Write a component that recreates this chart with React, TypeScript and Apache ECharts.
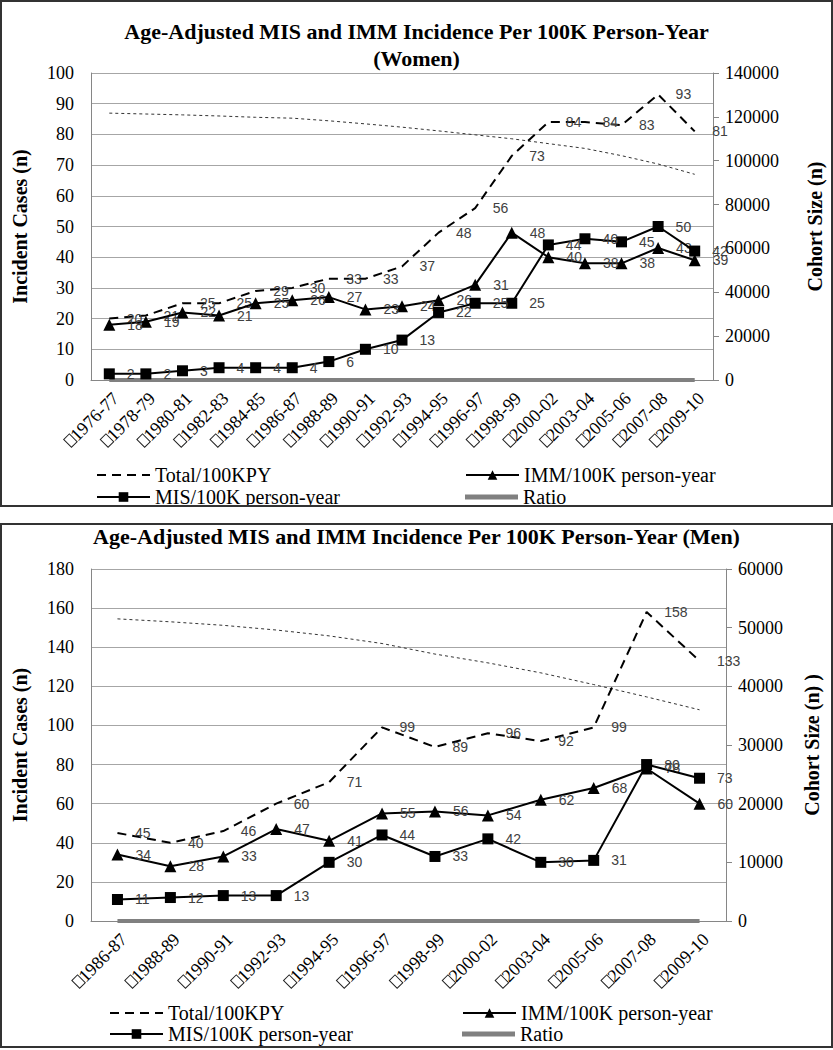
import { useEffect, useRef } from 'react'
import * as echarts from 'echarts'

const SERIF = '"Liberation Serif", "Times New Roman", serif'
const SANS = '"Liberation Sans", Arial, sans-serif'

// Women (top panel)
const womenPeriods = [
  '□1976-77', '□1978-79', '□1980-81', '□1982-83', '□1984-85', '□1986-87',
  '□1988-89', '□1990-91', '□1992-93', '□1994-95', '□1996-97', '□1998-99',
  '□2000-02', '□2003-04', '□2005-06', '□2007-08', '□2009-10',
]
const womenTotal = [20, 21, 25, 25, 29, 30, 33, 33, 37, 48, 56, 73, 84, 84, 83, 93, 81]
const womenImm = [18, 19, 22, 21, 25, 26, 27, 23, 24, 26, 31, 48, 40, 38, 38, 43, 39]
const womenMis = [2, 2, 3, 4, 4, 4, 6, 10, 13, 22, 25, 25, 44, 46, 45, 50, 42]
const womenRatio = [0.11, 0.11, 0.14, 0.19, 0.16, 0.15, 0.22, 0.43, 0.54, 0.85, 0.81, 0.52, 1.1, 1.21, 1.18, 1.16, 1.08]
const womenCohort = [
  121700, 121300, 120900, 120400, 119800, 119400, 118200, 116800, 115300,
  113600, 111800, 110000, 107800, 105600, 102300, 98500, 93800,
]

// Men (bottom panel)
const menPeriods = [
  '□1986-87', '□1988-89', '□1990-91', '□1992-93', '□1994-95', '□1996-97',
  '□1998-99', '□2000-02', '□2003-04', '□2005-06', '□2007-08', '□2009-10',
]
const menTotal = [45, 40, 46, 60, 71, 99, 89, 96, 92, 99, 158, 133]
const menImm = [34, 28, 33, 47, 41, 55, 56, 54, 62, 68, 78, 60]
const menMis = [11, 12, 13, 13, 30, 44, 33, 42, 30, 31, 80, 73]
const menRatio = [0.32, 0.43, 0.39, 0.28, 0.73, 0.8, 0.59, 0.78, 0.48, 0.46, 1.03, 1.22]
const menCohort = [51500, 51000, 50400, 49600, 48600, 47300, 45500, 44000, 42300, 40300, 38200, 36000]

interface PanelConfig {
  title: string
  titleTop: number
  gridTop: number
  periods: string[]
  total: number[]
  imm: number[]
  mis: number[]
  ratio: number[]
  cohort: number[]
  leftMax: number
  leftInterval: number
  rightMax: number
  rightInterval: number
  rightName: string
  rightNameGap: number
  legendCol1: number
  legendCol2: number
  legendRow1: number
  legendRow2: number
}

function buildOption(c: PanelConfig) {
  const labelStyle = { show: true, position: 'right', color: '#404040', fontFamily: SANS, fontSize: 14 }
  const legendText = { fontFamily: SERIF, fontSize: 20, color: '#000' }
  const legendBase = { itemWidth: 53, itemHeight: 12, itemGap: 5, padding: 0, textStyle: legendText, selectedMode: false }

  return {
    animation: false,
    title: {
      text: c.title,
      left: 'center',
      top: c.titleTop,
      padding: 0,
      textStyle: { fontFamily: SERIF, fontWeight: 'bold', fontSize: 22, lineHeight: 27, color: '#000' },
    },
    legend: [
      { ...legendBase, data: ['Total/100KPY'], left: c.legendCol1, top: c.legendRow1 },
      { ...legendBase, data: ['MIS/100K person-year'], left: c.legendCol1, top: c.legendRow2 },
      { ...legendBase, data: ['IMM/100K person-year'], left: c.legendCol2, top: c.legendRow1 },
      {
        ...legendBase,
        data: [{ name: 'Ratio', icon: 'rect' }],
        itemHeight: 5,
        left: c.legendCol2,
        top: c.legendRow2,
      },
    ],
    grid: { left: 91, right: 107, top: c.gridTop, bottom: 127 },
    xAxis: {
      type: 'category',
      data: c.periods,
      boundaryGap: true,
      axisLine: { lineStyle: { color: '#868686', width: 1 } },
      axisTick: { show: false },
      axisLabel: {
        rotate: 45,
        interval: 0,
        margin: 9,
        verticalAlign: 'top',
        fontFamily: SERIF,
        fontSize: 18,
        color: '#000',
        // the leading box glyph is drawn as an outlined box
        formatter: (v: string) => v.replace('□', '{box|□}'),
        rich: {
          box: {
            fontSize: 10,
            color: 'transparent',
            width: 8,
            height: 11,
            borderColor: '#222',
            borderWidth: 1,
          },
        },
      },
    },
    yAxis: [
      {
        type: 'value',
        min: 0,
        max: c.leftMax,
        interval: c.leftInterval,
        name: 'Incident Cases (n)',
        nameLocation: 'middle',
        nameRotate: 90,
        nameGap: 61,
        nameTextStyle: { fontFamily: SERIF, fontWeight: 'bold', fontSize: 20, color: '#000' },
        axisLine: { show: true, lineStyle: { color: '#868686' } },
        axisTick: { show: false },
        axisLabel: { margin: 17, fontFamily: SERIF, fontSize: 18, color: '#000' },
        splitLine: { lineStyle: { color: '#a6a6a6', width: 1 } },
      },
      {
        type: 'value',
        position: 'right',
        min: 0,
        max: c.rightMax,
        interval: c.rightInterval,
        name: c.rightName,
        nameLocation: 'middle',
        nameRotate: 90,
        nameGap: c.rightNameGap,
        nameTextStyle: { fontFamily: SERIF, fontWeight: 'bold', fontSize: 20, color: '#000' },
        axisLine: { show: true, lineStyle: { color: '#868686' } },
        axisTick: { show: true, length: 6, lineStyle: { color: '#868686' } },
        axisLabel: {
          margin: 12,
          fontFamily: SERIF,
          fontSize: 18,
          color: '#000',
          formatter: (v: number) => String(v),
        },
        splitLine: { show: false },
      },
    ],
    series: [
      {
        name: 'Cohort Size',
        type: 'line',
        yAxisIndex: 1,
        data: c.cohort,
        symbol: 'none',
        lineStyle: { color: '#333', width: 1, type: [3, 3] },
        z: 1,
      },
      {
        name: 'Ratio',
        type: 'line',
        yAxisIndex: 1,
        data: c.ratio,
        symbol: 'none',
        lineStyle: { color: '#808080', width: 4 },
        itemStyle: { color: '#808080' },
        z: 2,
      },
      {
        name: 'Total/100KPY',
        type: 'line',
        data: c.total,
        symbol: 'circle',
        symbolSize: 1,
        itemStyle: { color: 'transparent' },
        lineStyle: { color: '#000', width: 2, type: [9, 6] },
        label: { ...labelStyle, distance: 17 },
        z: 3,
      },
      {
        name: 'IMM/100K person-year',
        type: 'line',
        data: c.imm,
        symbol: 'triangle',
        symbolSize: 12,
        itemStyle: { color: '#000' },
        lineStyle: { color: '#000', width: 2 },
        label: { ...labelStyle, distance: 12 },
        z: 4,
      },
      {
        name: 'MIS/100K person-year',
        type: 'line',
        data: c.mis,
        symbol: 'rect',
        symbolSize: 11,
        itemStyle: { color: '#000' },
        lineStyle: { color: '#000', width: 2 },
        label: { ...labelStyle, distance: 12 },
        z: 5,
      },
    ],
  }
}

function Panel({ top, height, config }: { top: number; height: number; config: PanelConfig }) {
  const chartRef = useRef<HTMLDivElement>(null)

  useEffect(() => {
    if (!chartRef.current) return
    const chart = echarts.init(chartRef.current, undefined, { renderer: 'svg' })
    chart.setOption(buildOption(config) as any)
    return () => {
      chart.dispose()
    }
  }, [config])

  return (
    <div style={{ position: 'absolute', left: 0, top, width: 833, height }}>
      <div ref={chartRef} style={{ width: '100%', height: '100%' }}></div>
      <div
        style={{
          position: 'absolute',
          left: 0,
          top: 0,
          width: '100%',
          height: '100%',
          border: '2px solid #333',
          boxSizing: 'border-box',
          pointerEvents: 'none',
        }}
      ></div>
    </div>
  )
}

const womenConfig: PanelConfig = {
  title: 'Age-Adjusted MIS and IMM Incidence Per 100K Person-Year\n(Women)',
  titleTop: 18,
  gridTop: 73,
  periods: womenPeriods,
  total: womenTotal,
  imm: womenImm,
  mis: womenMis,
  ratio: womenRatio,
  cohort: womenCohort,
  leftMax: 100,
  leftInterval: 10,
  rightMax: 140000,
  rightInterval: 20000,
  rightName: 'Cohort Size (n)',
  rightNameGap: 92,
  legendCol1: 96,
  legendCol2: 465,
  legendRow1: 465,
  legendRow2: 487,
}

const menConfig: PanelConfig = {
  title: 'Age-Adjusted MIS and IMM Incidence Per 100K Person-Year (Men)',
  titleTop: 0,
  gridTop: 46,
  periods: menPeriods,
  total: menTotal,
  imm: menImm,
  mis: menMis,
  ratio: menRatio,
  cohort: menCohort,
  leftMax: 180,
  leftInterval: 20,
  rightMax: 60000,
  rightInterval: 10000,
  rightName: 'Cohort Size (n) )',
  rightNameGap: 76,
  legendCol1: 109,
  legendCol2: 462,
  legendRow1: 480,
  legendRow2: 501,
}

export default function App() {
  return (
    <div style={{ position: 'absolute', left: 0, top: 0, width: 833, height: 1050, background: '#fff' }}>
      <Panel top={0} height={507} config={womenConfig} />
      <Panel top={523} height={525} config={menConfig} />
    </div>
  )
}
